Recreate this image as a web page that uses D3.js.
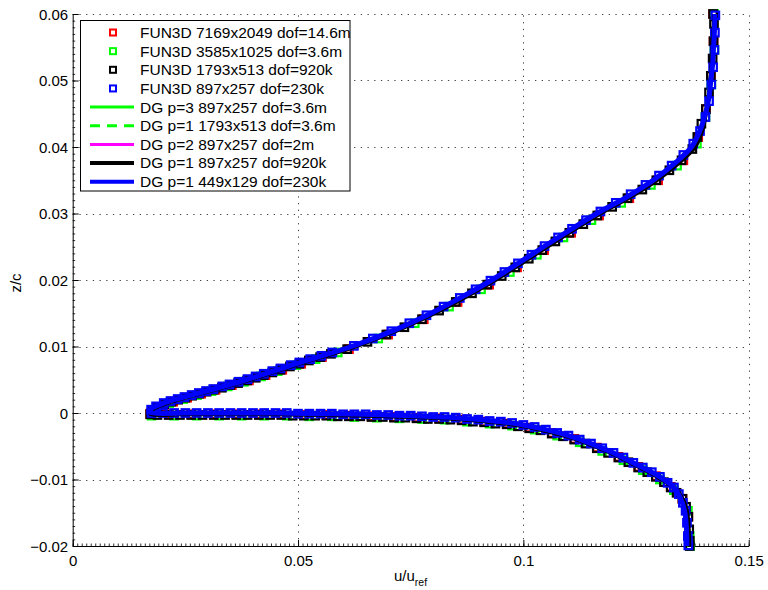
<!DOCTYPE html>
<html>
<head>
<meta charset="utf-8">
<script src="https://cdn.jsdelivr.net/npm/d3@7"></script>
<style>
  body { margin: 0; background: #fff; }
  svg text { font-family: "Liberation Sans", Arial, Helvetica, sans-serif; fill: #000; }
</style>
</head>
<body>
<svg id="chart" width="768" height="590"></svg>
<script>
// ---- axis ticks ----
const xTickValues = [0, 0.05, 0.1, 0.15];
const xTickLabels = ["0", "0.05", "0.1", "0.15"];
const yTickValues = [-0.02, -0.01, 0, 0.01, 0.02, 0.03, 0.04, 0.05, 0.06];
const yTickLabels = ["\u22120.02", "\u22120.01", "0", "0.01", "0.02", "0.03", "0.04", "0.05", "0.06"];

// ---- FUN3D samples, [u/uref, z/c]; upper branch then lower branch ----
const fun3dBlueUpper = [
  [0.1426,0.0598],[0.1425,0.0572],[0.1424,0.0546],[0.1421,0.0520],[0.1417,0.0494],[0.1412,0.0469],
  [0.1404,0.0445],[0.1392,0.0424],[0.1377,0.0405],[0.1355,0.0388],[0.1329,0.0372],[0.1301,0.0357],
  [0.1271,0.0343],[0.1238,0.0329],[0.1205,0.0316],[0.1171,0.0303],[0.1139,0.0290],[0.1108,0.0277],
  [0.1077,0.0264],[0.1047,0.0251],[0.1018,0.0238],[0.0988,0.0225],[0.0958,0.0212],[0.0927,0.0199],
  [0.0894,0.0186],[0.0859,0.0173],[0.0823,0.0160],[0.0785,0.0147],[0.0747,0.0135],[0.0707,0.0123],
  [0.0666,0.0112],[0.0624,0.0101],[0.0576,0.0091],[0.0552,0.0086],[0.0527,0.0081],[0.0503,0.0076],
  [0.0484,0.0072],[0.0461,0.0067],[0.0443,0.0063],[0.0424,0.0059],[0.0406,0.0055],[0.0388,0.0051],
  [0.0368,0.0047],[0.0348,0.0043],[0.0332,0.0040],[0.0312,0.0036],[0.0296,0.0033],[0.0280,0.0030],
  [0.0264,0.0027],[0.0248,0.0024],[0.0233,0.0021],[0.0217,0.0018],[0.0202,0.0015],[0.0185,0.0010],
  [0.0174,0.0005]
];
const fun3dBlueLower = [
  [0.0175,0.0000],[0.0200,0.0000],[0.0225,0.0000],[0.0250,0.0000],[0.0275,0.0000],[0.0300,0.0000],
  [0.0325,0.0000],[0.0350,0.0000],[0.0375,0.0000],[0.0400,0.0000],[0.0425,0.0000],[0.0450,0.0000],
  [0.0475,0.0000],[0.0500,-0.0001],[0.0525,-0.0001],[0.0550,-0.0001],[0.0575,-0.0001],[0.0600,-0.0002],
  [0.0625,-0.0002],[0.0650,-0.0002],[0.0675,-0.0003],[0.0700,-0.0003],[0.0725,-0.0004],[0.0750,-0.0004],
  [0.0775,-0.0005],[0.0800,-0.0006],[0.0825,-0.0006],[0.0850,-0.0007],[0.0875,-0.0009],[0.0900,-0.0010],
  [0.0925,-0.0012],[0.0950,-0.0013],[0.0975,-0.0015],[0.1000,-0.0018],[0.1025,-0.0021],[0.1050,-0.0025],
  [0.1075,-0.0030],[0.1100,-0.0034],[0.1125,-0.0040],[0.1150,-0.0046],[0.1175,-0.0053],[0.1200,-0.0060],
  [0.1222,-0.0067],[0.1244,-0.0075],[0.1265,-0.0082],[0.1285,-0.0089],[0.1303,-0.0096],[0.1320,-0.0105],
  [0.1334,-0.0112],[0.1345,-0.0122],[0.1354,-0.0135],[0.1360,-0.0147],[0.1363,-0.0165],[0.1365,-0.0185],
  [0.1366,-0.0199]
];
const fun3dBlackUpper = [
  [0.1421,0.0600],[0.1423,0.0585],[0.1422,0.0559],[0.1420,0.0533],[0.1416,0.0507],[0.1412,0.0482],
  [0.1405,0.0457],[0.1395,0.0435],[0.1386,0.0415],[0.1375,0.0397],[0.1351,0.0380],[0.1324,0.0365],
  [0.1295,0.0350],[0.1264,0.0336],[0.1231,0.0323],[0.1197,0.0310],[0.1164,0.0297],[0.1133,0.0284],
  [0.1102,0.0271],[0.1071,0.0258],[0.1042,0.0245],[0.1012,0.0232],[0.0982,0.0219],[0.0952,0.0206],
  [0.0920,0.0193],[0.0886,0.0180],[0.0850,0.0167],[0.0813,0.0154],[0.0775,0.0141],[0.0736,0.0129],
  [0.0696,0.0118],[0.0654,0.0107],[0.0609,0.0096],[0.0573,0.0089],[0.0549,0.0084],[0.0524,0.0079],
  [0.0503,0.0074],[0.0482,0.0070],[0.0461,0.0065],[0.0443,0.0061],[0.0424,0.0057],[0.0406,0.0053],
  [0.0387,0.0049],[0.0367,0.0045],[0.0349,0.0042],[0.0331,0.0038],[0.0313,0.0035],[0.0297,0.0032],
  [0.0281,0.0029],[0.0265,0.0026],[0.0250,0.0023],[0.0234,0.0020],[0.0219,0.0017],[0.0203,0.0013],
  [0.0189,0.0008],[0.0178,0.0003]
];
const fun3dBlackLower = [
  [0.0172,-0.0002],[0.0188,-0.0003],[0.0213,-0.0003],[0.0238,-0.0003],[0.0263,-0.0003],[0.0288,-0.0003],
  [0.0313,-0.0003],[0.0338,-0.0003],[0.0363,-0.0003],[0.0388,-0.0003],[0.0413,-0.0003],[0.0438,-0.0003],
  [0.0463,-0.0003],[0.0488,-0.0004],[0.0513,-0.0004],[0.0538,-0.0004],[0.0563,-0.0004],[0.0588,-0.0005],
  [0.0613,-0.0005],[0.0638,-0.0005],[0.0663,-0.0006],[0.0688,-0.0006],[0.0713,-0.0007],[0.0738,-0.0007],
  [0.0763,-0.0008],[0.0788,-0.0009],[0.0813,-0.0009],[0.0838,-0.0010],[0.0863,-0.0011],[0.0888,-0.0013],
  [0.0913,-0.0014],[0.0938,-0.0016],[0.0963,-0.0017],[0.0988,-0.0020],[0.1013,-0.0023],[0.1038,-0.0026],
  [0.1063,-0.0031],[0.1088,-0.0035],[0.1113,-0.0040],[0.1138,-0.0046],[0.1163,-0.0053],[0.1188,-0.0060],
  [0.1211,-0.0067],[0.1233,-0.0074],[0.1255,-0.0082],[0.1275,-0.0089],[0.1294,-0.0096],[0.1312,-0.0104],
  [0.1327,-0.0112],[0.1340,-0.0120],[0.1353,-0.0129],[0.1361,-0.0141],[0.1366,-0.0156],[0.1368,-0.0175],
  [0.1369,-0.0192],[0.1369,-0.0200]
];
const fun3dGreenUpper = [
  [0.1423,0.0600],[0.1424,0.0546],[0.1417,0.0494],[0.1404,0.0445],[0.1385,0.0405],[0.1341,0.0372],
  [0.1283,0.0343],[0.1217,0.0316],[0.1151,0.0290],[0.1089,0.0264],[0.1030,0.0238],[0.0970,0.0212],
  [0.0906,0.0186],[0.0835,0.0160],[0.0759,0.0135],[0.0678,0.0112],[0.0588,0.0091],[0.0539,0.0081],
  [0.0496,0.0072],[0.0455,0.0063],[0.0418,0.0055],[0.0380,0.0047],[0.0344,0.0040],[0.0308,0.0033],
  [0.0276,0.0027],[0.0245,0.0021],[0.0214,0.0015],[0.0184,0.0005]
];
const fun3dGreenLower = [
  [0.0175,-0.0004],[0.0225,-0.0004],[0.0275,-0.0004],[0.0325,-0.0004],[0.0375,-0.0004],[0.0425,-0.0004],
  [0.0475,-0.0004],[0.0525,-0.0005],[0.0575,-0.0005],[0.0625,-0.0006],[0.0675,-0.0007],[0.0725,-0.0008],
  [0.0775,-0.0009],[0.0825,-0.0010],[0.0875,-0.0013],[0.0925,-0.0016],[0.0975,-0.0019],[0.1025,-0.0025],
  [0.1075,-0.0034],[0.1125,-0.0044],[0.1175,-0.0057],[0.1222,-0.0071],[0.1265,-0.0086],[0.1303,-0.0100],
  [0.1334,-0.0116],[0.1365,-0.0147],[0.1369,-0.0185],[0.1370,-0.0200]
];
const fun3dRedUpper = [
  [0.1421,0.0600],[0.1422,0.0559],[0.1416,0.0507],[0.1405,0.0457],[0.1388,0.0415],[0.1355,0.0380],
  [0.1299,0.0350],[0.1235,0.0323],[0.1168,0.0297],[0.1106,0.0271],[0.1046,0.0245],[0.0986,0.0219],
  [0.0924,0.0193],[0.0854,0.0167],[0.0779,0.0141],[0.0700,0.0118],[0.0613,0.0096],[0.0553,0.0084],
  [0.0507,0.0074],[0.0465,0.0065],[0.0428,0.0057],[0.0391,0.0049],[0.0353,0.0042],[0.0317,0.0035],
  [0.0285,0.0029],[0.0254,0.0023],[0.0223,0.0017],[0.0193,0.0008]
];
const fun3dRedLower = [
  [0.0172,-0.0001],[0.0213,-0.0002],[0.0263,-0.0002],[0.0313,-0.0002],[0.0363,-0.0002],[0.0413,-0.0002],
  [0.0463,-0.0002],[0.0513,-0.0003],[0.0563,-0.0003],[0.0613,-0.0004],[0.0663,-0.0005],[0.0713,-0.0006],
  [0.0763,-0.0007],[0.0813,-0.0008],[0.0863,-0.0010],[0.0913,-0.0013],[0.0963,-0.0016],[0.1013,-0.0022],
  [0.1063,-0.0030],[0.1113,-0.0039],[0.1163,-0.0052],[0.1211,-0.0066],[0.1255,-0.0081],[0.1294,-0.0095],
  [0.1327,-0.0111],[0.1353,-0.0129],[0.1366,-0.0156],[0.1369,-0.0192]
];

// ---- DG profiles, [u/uref, z/c] ----
const dgFineUpper = [
  [0.1423,0.0600],[0.1422,0.0575],[0.1420,0.0550],[0.1418,0.0525],[0.1414,0.0500],[0.1410,0.0475],
  [0.1403,0.0450],[0.1394,0.0425],[0.1378,0.0400],[0.1340,0.0375],[0.1293,0.0350],[0.1235,0.0325],
  [0.1168,0.0300],[0.1108,0.0275],[0.1050,0.0250],[0.0993,0.0225],[0.0935,0.0200],[0.0870,0.0175],
  [0.0800,0.0150],[0.0720,0.0125],[0.0624,0.0100],[0.0505,0.0075],[0.0390,0.0050],[0.0312,0.0035],
  [0.0258,0.0025],[0.0207,0.0015],[0.0182,0.0008],[0.0173,0.0003]
];
const dgFineLower = [
  [0.0172,0.0000],[0.0250,-0.0001],[0.0350,-0.0001],[0.0450,-0.0001],[0.0550,-0.0002],[0.0650,-0.0003],
  [0.0750,-0.0005],[0.0850,-0.0008],[0.0950,-0.0014],[0.1000,-0.0019],[0.1050,-0.0026],[0.1100,-0.0035],
  [0.1150,-0.0047],[0.1200,-0.0061],[0.1250,-0.0078],[0.1300,-0.0096],[0.1335,-0.0113],[0.1350,-0.0128],
  [0.1360,-0.0148],[0.1364,-0.0175],[0.1365,-0.0200]
];
const dgBlackUpper = [
  [0.1423,0.0600],[0.1422,0.0575],[0.1420,0.0550],[0.1418,0.0525],[0.1415,0.0500],[0.1411,0.0475],
  [0.1405,0.0450],[0.1397,0.0425],[0.1381,0.0400],[0.1343,0.0375],[0.1296,0.0350],[0.1238,0.0325],
  [0.1171,0.0300],[0.1111,0.0275],[0.1053,0.0250],[0.0996,0.0225],[0.0938,0.0200],[0.0873,0.0175],
  [0.0803,0.0150],[0.0723,0.0125],[0.0627,0.0100],[0.0508,0.0075],[0.0393,0.0050],[0.0315,0.0035],
  [0.0261,0.0025],[0.0210,0.0015],[0.0184,0.0008],[0.0174,0.0003]
];
const dgBlackLower = [
  [0.0172,-0.0001],[0.0250,-0.0002],[0.0350,-0.0002],[0.0450,-0.0002],[0.0550,-0.0003],[0.0650,-0.0004],
  [0.0750,-0.0006],[0.0850,-0.0009],[0.0950,-0.0015],[0.1000,-0.0020],[0.1050,-0.0027],[0.1100,-0.0036],
  [0.1150,-0.0048],[0.1200,-0.0062],[0.1250,-0.0079],[0.1300,-0.0097],[0.1337,-0.0114],[0.1353,-0.0129],
  [0.1363,-0.0148],[0.1367,-0.0175],[0.1368,-0.0200]
];
const dgBlueUpper = [
  [0.1425,0.0600],[0.1424,0.0575],[0.1422,0.0550],[0.1420,0.0525],[0.1416,0.0500],[0.1412,0.0475],
  [0.1404,0.0450],[0.1392,0.0425],[0.1373,0.0400],[0.1335,0.0375],[0.1288,0.0350],[0.1230,0.0325],
  [0.1163,0.0300],[0.1103,0.0275],[0.1045,0.0250],[0.0988,0.0225],[0.0930,0.0200],[0.0865,0.0175],
  [0.0795,0.0150],[0.0715,0.0125],[0.0619,0.0100],[0.0500,0.0075],[0.0385,0.0050],[0.0307,0.0035],
  [0.0253,0.0025],[0.0202,0.0015],[0.0178,0.0008],[0.0171,0.0004]
];
const dgBlueLower = [
  [0.0171,0.0001],[0.0250,0.0000],[0.0350,0.0000],[0.0450,0.0000],[0.0550,-0.0001],[0.0650,-0.0002],
  [0.0750,-0.0004],[0.0850,-0.0007],[0.0950,-0.0013],[0.1000,-0.0018],[0.1050,-0.0025],[0.1100,-0.0034],
  [0.1150,-0.0046],[0.1200,-0.0060],[0.1250,-0.0077],[0.1300,-0.0095],[0.1334,-0.0112],[0.1348,-0.0127],
  [0.1358,-0.0148],[0.1362,-0.0175],[0.1363,-0.0200]
];

// ---- series definitions (drawing order = legend order) ----
const markerSeries = [
  { label: "FUN3D 7169x2049 dof=14.6m", color: "#ff0000", points: fun3dRedUpper.concat(fun3dRedLower) },
  { label: "FUN3D 3585x1025 dof=3.6m",  color: "#00ff00", points: fun3dGreenUpper.concat(fun3dGreenLower) },
  { label: "FUN3D 1793x513 dof=920k",   color: "#000000", points: fun3dBlackUpper.concat(fun3dBlackLower) },
  { label: "FUN3D 897x257 dof=230k",    color: "#0000ff", points: fun3dBlueUpper.concat(fun3dBlueLower) }
];
const lineSeries = [
  { label: "DG p=3 897x257 dof=3.6m",   color: "#00ff00", width: 3, legendWidth: 3, dash: null,   points: dgFineUpper.concat(dgFineLower) },
  { label: "DG p=1 1793x513 dof=3.6m",  color: "#00ff00", width: 3, legendWidth: 3, dash: "10,7", points: dgFineUpper.concat(dgFineLower) },
  { label: "DG p=2 897x257 dof=2m",     color: "#ff00ff", width: 2, legendWidth: 3, dash: null,   points: dgFineUpper.concat(dgFineLower) },
  { label: "DG p=1 897x257 dof=920k",   color: "#000000", width: 4, legendWidth: 4, dash: null,   points: dgBlackUpper.concat(dgBlackLower) },
  { label: "DG p=1 449x129 dof=230k",   color: "#0000ff", width: 5, legendWidth: 4, dash: null,   points: dgBlueUpper.concat(dgBlueLower) }
];

// ---- layout ----
const svg = d3.select("#chart");
const plot = { left: 72.7, right: 748.7, top: 14, bottom: 546 };
const x = d3.scaleLinear().domain([0, 0.15]).range([plot.left, plot.right]);
const y = d3.scaleLinear().domain([-0.02, 0.06]).range([plot.bottom, plot.top]);

// dotted grid
const grid = svg.append("g").attr("stroke", "#444").attr("stroke-width", 1)
  .attr("stroke-dasharray", "1.3,5.4").attr("fill", "none");
grid.selectAll("line.v").data(xTickValues.slice(1)).join("line")
  .attr("x1", d => Math.round(x(d)) + 0.5).attr("x2", d => Math.round(x(d)) + 0.5)
  .attr("y1", plot.bottom).attr("y2", plot.top);
grid.selectAll("line.h").data(yTickValues.slice(1)).join("line")
  .attr("y1", d => Math.round(y(d)) + 0.5).attr("y2", d => Math.round(y(d)) + 0.5)
  .attr("x1", plot.left).attr("x2", plot.right);

// minor ticks
svg.append("g").attr("transform", `translate(0,${plot.bottom})`)
  .call(d3.axisBottom(x).tickValues(x.ticks(150)).tickSize(-2.5).tickSizeOuter(0).tickFormat(""))
  .call(g => g.select(".domain").remove())
  .call(g => g.selectAll("line").attr("stroke", "#333"));
svg.append("g").attr("transform", `translate(${plot.left},0)`)
  .call(d3.axisLeft(y).tickValues(y.ticks(80)).tickSize(-2.5).tickSizeOuter(0).tickFormat(""))
  .call(g => g.select(".domain").remove())
  .call(g => g.selectAll("line").attr("stroke", "#333"));

// major axes
svg.append("g").attr("transform", `translate(0,${plot.bottom})`)
  .call(d3.axisBottom(x).tickValues(xTickValues).tickSize(-6).tickSizeOuter(0).tickPadding(9)
    .tickFormat((d, i) => xTickLabels[i]))
  .call(g => g.selectAll("text").attr("font-size", 15).attr("fill", "#000"))
  .call(g => g.selectAll("line, .domain").attr("stroke", "#000"));
svg.append("g").attr("transform", `translate(${plot.left},0)`)
  .call(d3.axisLeft(y).tickValues(yTickValues).tickSize(-6).tickSizeOuter(0).tickPadding(4.5)
    .tickFormat((d, i) => yTickLabels[i]))
  .call(g => g.selectAll("text").attr("font-size", 15).attr("fill", "#000").attr("dy", "0.36em"))
  .call(g => g.selectAll("line, .domain").attr("stroke", "#000"));

// axis titles
const xTitle = svg.append("text").attr("x", 394).attr("y", 581).attr("font-size", 15);
xTitle.append("tspan").text("u/u");
xTitle.append("tspan").attr("font-size", 10.5).attr("dy", 5).text("ref");
svg.append("text").attr("transform", "translate(21,283) rotate(-90)")
  .attr("text-anchor", "middle").attr("font-size", 15).text("z/c");

// FUN3D markers: hollow squares
const ms = 7.5;
const marks = svg.append("g");
markerSeries.forEach(s => {
  marks.append("g").attr("fill", "none").attr("stroke", s.color).attr("stroke-width", 2.2)
    .selectAll("rect").data(s.points).join("rect")
    .attr("x", d => x(d[0]) - ms / 2).attr("y", d => y(d[1]) - ms / 2)
    .attr("width", ms).attr("height", ms);
});

// DG profiles
const line = d3.line().x(d => x(d[0])).y(d => y(d[1])).curve(d3.curveCatmullRom.alpha(0.5));
const lines = svg.append("g").attr("fill", "none");
lineSeries.forEach(s => {
  lines.append("path").datum(s.points)
    .attr("d", line).attr("stroke", s.color).attr("stroke-width", s.width)
    .attr("stroke-dasharray", s.dash).attr("stroke-linejoin", "round");
});

// legend
const lms = 6;
const leg = svg.append("g");
leg.append("rect").attr("x", 80.5).attr("y", 20.5).attr("width", 269.5).attr("height", 170.5)
  .attr("fill", "#fff").attr("stroke", "#000").attr("stroke-width", 1);
const rowY = i => 32.5 + i * 18.65;
markerSeries.forEach((s, i) => {
  leg.append("rect").attr("x", 113 - lms / 2).attr("y", rowY(i) - lms / 2).attr("width", lms).attr("height", lms)
    .attr("fill", "none").attr("stroke", s.color).attr("stroke-width", 2);
  leg.append("text").attr("x", 140).attr("y", rowY(i) + 5.4).attr("font-size", 15.5).text(s.label);
});
lineSeries.forEach((s, j) => {
  const i = j + markerSeries.length;
  leg.append("line").attr("x1", 90).attr("x2", 134).attr("y1", rowY(i)).attr("y2", rowY(i))
    .attr("stroke", s.color).attr("stroke-width", s.legendWidth)
    .attr("stroke-dasharray", s.dash);
  leg.append("text").attr("x", 140).attr("y", rowY(i) + 5.4).attr("font-size", 15.5).text(s.label);
});
</script>
</body>
</html>
